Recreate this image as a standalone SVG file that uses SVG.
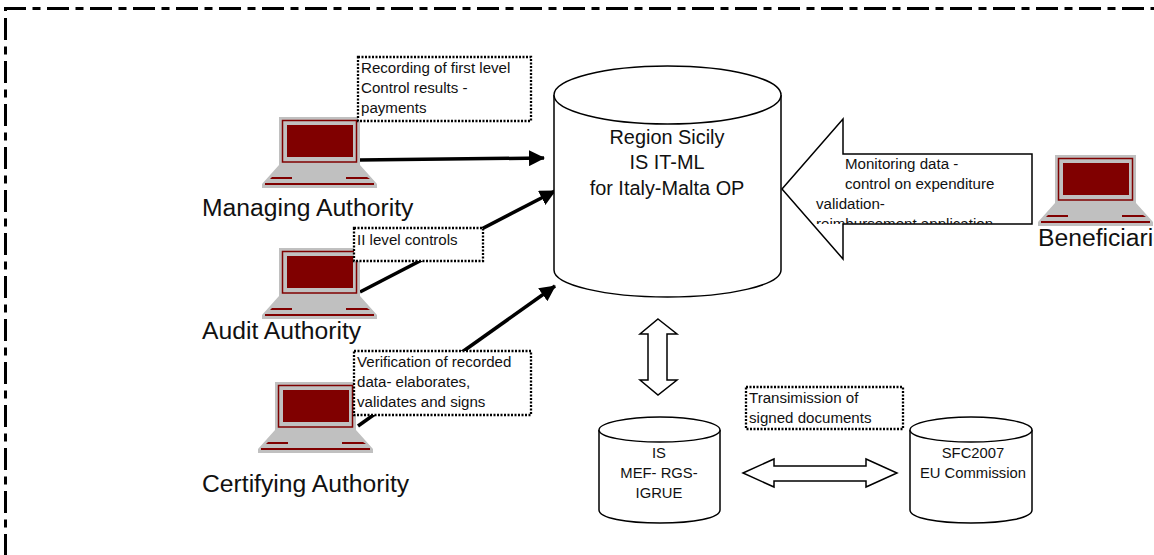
<svg xmlns="http://www.w3.org/2000/svg" width="1154" height="555" viewBox="0 0 1154 555">
<style>
text{font-family:"Liberation Sans",Arial,sans-serif;fill:#111}
.l{font-size:24.7px}
.s{font-size:15.1px}
.c{font-size:14.8px;text-anchor:middle}
.m{font-size:19.9px;text-anchor:middle}
.o{fill:#fff;stroke:#000;stroke-width:1.5}
.b{fill:#fff;stroke:#000;stroke-width:2.3;stroke-dasharray:2 1.5}
.a{fill:none;stroke:#000;stroke-width:3.5;marker-end:url(#h)}
.d{fill:none;stroke:#000;stroke-width:3;stroke-dasharray:22 6.5 8 6.5}
</style>
<defs>
<marker id="h" markerUnits="userSpaceOnUse" markerWidth="16" markerHeight="16" refX="15" refY="8" orient="auto"><path d="M0 0L16 8L0 16Z" fill="#000"/></marker>
<clipPath id="cl"><rect x="800" y="150" width="240" height="74"/></clipPath>
<g id="pc">
<path d="M279 117H360V165L377 184V188H262V184L279 165Z" fill="#c0c0c0"/>
<rect x="282.500" y="120.500" width="74" height="41.500" fill="none" stroke="#800000" stroke-width="1.500"/>
<rect x="287" y="125" width="66" height="32" fill="#800000"/>
<path d="M272 177H292V179H270ZM346 177H367L370 179H346Z" fill="#800000"/>
<rect x="265" y="183" width="109" height="2" fill="#800000"/>
</g>
</defs>
<rect width="1154" height="555" fill="#fff"/>
<g id="frame">
<path class="d" d="M4 8.500H1154"/>
<path class="d" d="M5.500 18V555"/>
<rect x="4" y="8" width="3" height="3" fill="#000"/>
</g>
<g id="connectors">
<path class="a" d="M359 160L544 158"/>
<path class="a" d="M360 292L555 191"/>
<path class="a" d="M358 426L555 286"/>
</g>
<g id="managing"><use href="#pc"/><text class="l" x="202" y="216">Managing Authority</text></g>
<g id="audit"><use href="#pc" y="131"/><text class="l" x="202" y="339">Audit Authority</text></g>
<g id="certifying"><use href="#pc" x="-4" y="265"/><text class="l" x="202" y="492">Certifying Authority</text></g>
<g id="beneficiaries"><use href="#pc" x="776" y="38"/><text class="l" x="1038" y="246">Beneficiaries</text></g>
<g id="region">
<path class="o" d="M554 95C554 79 605 66 667.500 66C730 66 781 79 781 95V270C781 285 730 297 667.500 297C605 297 554 285 554 270Z"/>
<path class="o" fill="none" d="M554 95C554 111 605 124 667.500 124C730 124 781 111 781 95"/>
<text class="m" x="667" y="144">Region Sicily</text>
<text class="m" x="667" y="169">IS IT-ML</text>
<text class="m" x="667" y="195">for Italy-Malta OP</text>
</g>
<g id="monitoring">
<path class="o" d="M782 189L843 119V154H1032V224H843V259Z"/>
<text class="s" x="845" y="169">Monitoring data -</text>
<text class="s" x="845" y="189">control on expenditure</text>
<text class="s" x="816" y="209">validation-</text>
<text class="s" x="816" y="229" clip-path="url(#cl)">reimbursement application</text>
</g>
<g id="box-recording">
<rect class="b" x="358" y="57" width="173" height="64"/>
<text class="s" x="361" y="73">Recording of first level</text>
<text class="s" x="361" y="93">Control results -</text>
<text class="s" x="361" y="113">payments</text>
</g>
<g id="box-controls">
<rect class="b" x="354" y="228" width="129" height="33"/>
<text class="s" x="357" y="245">II level controls</text>
</g>
<g id="box-verification">
<rect class="b" x="354" y="351" width="177" height="64"/>
<text class="s" x="357" y="367">Verification of recorded</text>
<text class="s" x="357" y="387">data- elaborates,</text>
<text class="s" x="357" y="407">validates and signs</text>
</g>
<g id="box-transmission">
<rect class="b" x="746" y="387" width="157" height="42"/>
<text class="s" x="749" y="403">Transimission of</text>
<text class="s" x="749" y="423">signed documents</text>
</g>
<g id="arrow-v"><path class="o" d="M658 319L677 334H667V380H677L658 395L640 380H648V334H640Z"/></g>
<g id="arrow-h"><path class="o" d="M743 473L774 459V466H866V459L897 473L866 487V481H774V487Z"/></g>
<g id="is-mef">
<path class="o" d="M599 430C599 423 626 417 660 417C694 417 720 423 720 430V510C720 518 694 523 660 523C626 523 599 518 599 510Z"/>
<path class="o" fill="none" d="M599 430C599 437 626 442 660 442C694 442 720 437 720 430"/>
<text class="c" x="659" y="458">IS</text>
<text class="c" x="659" y="478">MEF- RGS-</text>
<text class="c" x="659" y="498">IGRUE</text>
</g>
<g id="sfc">
<path class="o" d="M910 430C910 423 937 417 971 417C1005 417 1032 423 1032 430V510C1032 518 1005 523 971 523C937 523 910 518 910 510Z"/>
<path class="o" fill="none" d="M910 430C910 437 937 442 971 442C1005 442 1032 437 1032 430"/>
<text class="c" x="973" y="458">SFC2007</text>
<text class="c" x="973" y="478">EU Commission</text>
</g>
</svg>
